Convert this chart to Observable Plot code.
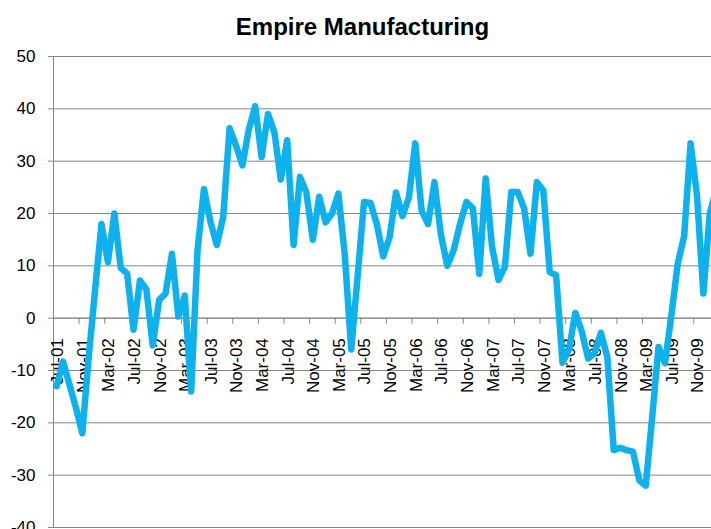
<!DOCTYPE html>
<html>
<head>
<meta charset="utf-8">
<script src="https://cdn.jsdelivr.net/npm/d3@7"></script>
<script src="https://cdn.jsdelivr.net/npm/@observablehq/plot@0.6"></script>
<style>
html, body { margin: 0; padding: 0; background: #fff; overflow: hidden; width: 711px; height: 529px; }
#chart { position: relative; width: 711px; height: 529px; overflow: hidden; }
#chart svg { max-width: none !important; display: block; }
</style>
</head>
<body>
<div id="chart"></div>
<script>
// Empire State Manufacturing Survey, monthly from Jul-01
const title = "Empire Manufacturing";
const values = [
  -13, -8.3, -12.7, -17.1, -22, -7.5, 5.5, 18, 10.7, 20, 9.6, 8.5,
  -2.2, 7.2, 5.5, -5.2, 3.5, 4.7, 12.3, 0.3, 4.3, -14, 13, 24.7,
  18.5, 14, 19.3, 36.3, 33, 29.2, 36, 40.5, 30.8, 39, 35.5, 26.5,
  34, 14, 27, 24, 15, 23.2, 18.3, 20, 23.8, 12, -6, 8,
  22.2, 22, 18, 11.8, 15.5, 24, 19.5, 23, 33.4, 20.5, 18, 26,
  16, 10, 13, 18, 22.2, 21, 8.5, 26.7, 13.6, 7.3, 9.8, 24.1,
  24.1, 21, 12.3, 26, 24.4, 8.8, 8.2, -8.5, -6, 1, -2.5, -7.7,
  -6.7, -2.8, -7.4, -25.2, -24.8, -25.2, -25.5, -31, -32, -19, -5.5, -8.6,
  0.5, 10.4, 15.7, 33.4, 23.5, 4.7, 20, 24.5
];
const tickLabels = [
  "Jul-01", "Nov-01", "Mar-02", "Jul-02", "Nov-02", "Mar-03", "Jul-03",
  "Nov-03", "Mar-04", "Jul-04", "Nov-04", "Mar-05", "Jul-05", "Nov-05",
  "Mar-06", "Jul-06", "Nov-06", "Mar-07", "Jul-07", "Nov-07", "Mar-08",
  "Jul-08", "Nov-08", "Mar-09", "Jul-09", "Nov-09"
];
const tickEvery = 4;
const yTicks = [-40, -30, -20, -10, 0, 10, 20, 30, 40, 50];

const data = values.map((v, i) => ({i, v}));
const labelData = tickLabels.map((t, k) => ({i: k * tickEvery, t}));
const boundaries = d3.range(0, Math.ceil(values.length / tickEvery) + 2).map(k => k * tickEvery - 0.5);

const axisColor = "#868686";
const chart = Plot.plot({
  width: 740,
  height: 560,
  marginLeft: 53,
  marginRight: 0,
  marginTop: 56,
  marginBottom: 33,
  style: {fontFamily: "'Liberation Sans', Arial, sans-serif", background: "#fff", color: "#000", maxWidth: "none"},
  x: {domain: [-0.5, 106.8], axis: null},
  y: {domain: [-40, 50], axis: null},
  marks: [
    Plot.gridY(yTicks, {stroke: axisColor, strokeOpacity: 1}),
    Plot.axisY(yTicks, {label: null, tickSize: 5, tickPadding: 13, fontSize: 17, stroke: axisColor, fill: "#000", tickFormat: d => String(d)}),
    Plot.ruleX([-0.5], {stroke: axisColor}),
    Plot.ruleY([0], {stroke: axisColor}),
    Plot.ruleX(boundaries, {x: d => d, y1: 0, y2: -1.15, stroke: axisColor}),
    Plot.text(labelData, {x: "i", y: () => 0, text: "t", rotate: -90, textAnchor: "end", dy: 20, dx: 1, fontSize: 17, fill: "#000"}),
    Plot.line(data, {x: "i", y: "v", stroke: "#0DB1EE", strokeWidth: 6.5}),
    Plot.text([title], {frameAnchor: "top", lineAnchor: "middle", dy: -29, dx: -34.5, fontWeight: "bold", fontSize: 24, fill: "#000"})
  ]
});
document.getElementById("chart").appendChild(chart);
</script>
</body>
</html>
